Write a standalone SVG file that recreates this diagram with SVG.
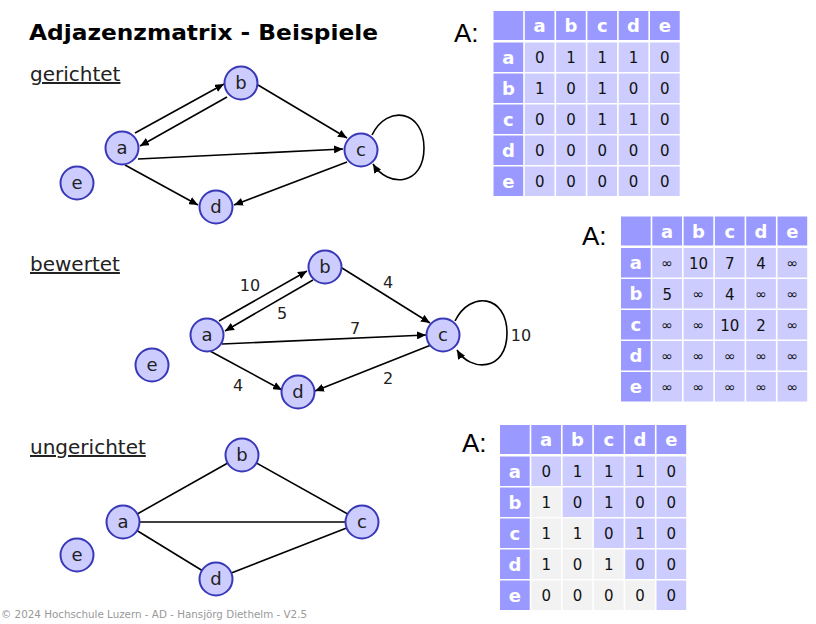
<svg xmlns="http://www.w3.org/2000/svg" width="816" height="624" viewBox="0 0 816 624">
<defs>
<marker id="arr" markerUnits="userSpaceOnUse" markerWidth="10" markerHeight="8" refX="9" refY="4" orient="auto"><path d="M0,0 L9,4 L0,8 z" fill="#000"/></marker>
<style>
.title{font-family:"DejaVu Sans",Verdana,sans-serif;font-weight:bold;font-size:22px;fill:#000}
.sec{font-family:"DejaVu Sans",Verdana,sans-serif;font-size:20px;fill:#222;text-decoration:underline}
.nd circle{fill:#CCCCFF;stroke:#3838B8;stroke-width:2}
.nd text{font-family:"DejaVu Sans",Verdana,sans-serif;font-size:18px;fill:#222;text-anchor:middle}
.e{stroke:#000;stroke-width:1.6;fill:none}
.ea{stroke:#000;stroke-width:1.6;fill:none;marker-end:url(#arr)}
.lbl{font-family:"DejaVu Sans",Verdana,sans-serif;font-size:16px;fill:#222;text-anchor:middle}
.A{font-family:"Liberation Sans",Arial,sans-serif;font-size:26px;fill:#000}
.h{fill:#9999FF}
.c{fill:#CCCCFF}
.g{fill:#F2F2F2}
.ht{font-family:"DejaVu Sans",Verdana,sans-serif;font-weight:bold;font-size:18px;fill:#fff;text-anchor:middle}
.dt{font-family:"DejaVu Sans",Verdana,sans-serif;font-size:15px;fill:#111;text-anchor:middle}
.it{font-family:"DejaVu Sans",Verdana,sans-serif;font-size:14px;fill:#111;text-anchor:middle}
.foot{font-family:"DejaVu Sans",Verdana,sans-serif;font-size:11px;fill:#999}
</style>
</defs>
<rect width="816" height="624" fill="#fff"/>
<text class="title" x="29" y="40" textLength="349" lengthAdjust="spacingAndGlyphs">Adjazenzmatrix - Beispiele</text>
<text class="sec" x="30" y="81">gerichtet</text>
<text class="sec" x="30" y="271">bewertet</text>
<text class="sec" x="30" y="454">ungerichtet</text>

<g id="connectors">
<!-- graph 1 -->
<path class="ea" d="M135,133 L224,84"/>
<path class="ea" d="M227,97 L140,146"/>
<path class="ea" d="M258,85 L347,138"/>
<path class="ea" d="M138,159 L343,149"/>
<path class="ea" d="M125,165 L198,205"/>
<path class="ea" d="M347,162 L234,205"/>
<path class="ea" d="M372,135 C387,104 424,110 424,148 C424,186 388,188 373,164"/>
<!-- graph 2 -->
<path class="ea" d="M219,321 L307,271"/>
<path class="ea" d="M313,280 L225,331"/>
<path class="ea" d="M342,268 L430,323"/>
<path class="ea" d="M222,344 L426,335"/>
<path class="ea" d="M210,351 L282,390"/>
<path class="ea" d="M431,345 L315,391"/>
<path class="ea" d="M455,321 C470,290 507,295 507,333 C507,372 470,372 457,350"/>
<!-- graph 3 -->
<path class="e" d="M123,522 L242,455"/>
<path class="e" d="M242,455 L362,522"/>
<path class="e" d="M123,522 L362,522"/>
<path class="e" d="M123,522 L216,579"/>
<path class="e" d="M362,522 L216,579"/>
</g>

<g id="edge-labels">
<text class="lbl" x="250" y="291">10</text>
<text class="lbl" x="388" y="288">4</text>
<text class="lbl" x="282" y="319">5</text>
<text class="lbl" x="355" y="334">7</text>
<text class="lbl" x="521" y="341">10</text>
<text class="lbl" x="238" y="391">4</text>
<text class="lbl" x="388" y="384">2</text>
</g>

<g id="g1-a" class="nd"><circle cx="122" cy="148" r="16.5"/><text x="122" y="154">a</text></g>
<g id="g1-b" class="nd"><circle cx="241" cy="83" r="16.5"/><text x="241" y="89">b</text></g>
<g id="g1-c" class="nd"><circle cx="361" cy="150" r="16.5"/><text x="361" y="156">c</text></g>
<g id="g1-d" class="nd"><circle cx="216" cy="207" r="16.5"/><text x="216" y="213">d</text></g>
<g id="g1-e" class="nd"><circle cx="77" cy="183" r="16.5"/><text x="77" y="189">e</text></g>

<g id="g2-a" class="nd"><circle cx="207" cy="335" r="16.5"/><text x="207" y="341">a</text></g>
<g id="g2-b" class="nd"><circle cx="325" cy="267" r="16.5"/><text x="325" y="273">b</text></g>
<g id="g2-c" class="nd"><circle cx="443" cy="335" r="16.5"/><text x="443" y="341">c</text></g>
<g id="g2-d" class="nd"><circle cx="298" cy="392" r="16.5"/><text x="298" y="398">d</text></g>
<g id="g2-e" class="nd"><circle cx="152" cy="365" r="16.5"/><text x="152" y="371">e</text></g>

<g id="g3-a" class="nd"><circle cx="123" cy="522" r="16.5"/><text x="123" y="528">a</text></g>
<g id="g3-b" class="nd"><circle cx="242" cy="455" r="16.5"/><text x="242" y="461">b</text></g>
<g id="g3-c" class="nd"><circle cx="362" cy="522" r="16.5"/><text x="362" y="528">c</text></g>
<g id="g3-d" class="nd"><circle cx="216" cy="579" r="16.5"/><text x="216" y="585">d</text></g>
<g id="g3-e" class="nd"><circle cx="77" cy="555" r="16.5"/><text x="77" y="561">e</text></g>

<!-- Matrix 1 -->
<text class="A" x="454" y="42">A:</text>
<g id="matrix1" transform="translate(493.5,11)">
<rect class="h" x="0" y="0" width="29.7" height="29"/><rect class="h" x="31.3" y="0" width="29.7" height="29"/><rect class="h" x="62.6" y="0" width="29.7" height="29"/><rect class="h" x="93.9" y="0" width="29.7" height="29"/><rect class="h" x="125.2" y="0" width="29.7" height="29"/><rect class="h" x="156.5" y="0" width="29.7" height="29"/>
<rect class="h" x="0" y="31.5" width="29.7" height="29.5"/><rect class="h" x="0" y="62.5" width="29.7" height="29.5"/><rect class="h" x="0" y="93.5" width="29.7" height="29.5"/><rect class="h" x="0" y="124.5" width="29.7" height="29.5"/><rect class="h" x="0" y="155.5" width="29.7" height="29.5"/>
<g class="c">
<rect x="31.3" y="31.5" width="29.7" height="29.5"/><rect x="62.6" y="31.5" width="29.7" height="29.5"/><rect x="93.9" y="31.5" width="29.7" height="29.5"/><rect x="125.2" y="31.5" width="29.7" height="29.5"/><rect x="156.5" y="31.5" width="29.7" height="29.5"/>
<rect x="31.3" y="62.5" width="29.7" height="29.5"/><rect x="62.6" y="62.5" width="29.7" height="29.5"/><rect x="93.9" y="62.5" width="29.7" height="29.5"/><rect x="125.2" y="62.5" width="29.7" height="29.5"/><rect x="156.5" y="62.5" width="29.7" height="29.5"/>
<rect x="31.3" y="93.5" width="29.7" height="29.5"/><rect x="62.6" y="93.5" width="29.7" height="29.5"/><rect x="93.9" y="93.5" width="29.7" height="29.5"/><rect x="125.2" y="93.5" width="29.7" height="29.5"/><rect x="156.5" y="93.5" width="29.7" height="29.5"/>
<rect x="31.3" y="124.5" width="29.7" height="29.5"/><rect x="62.6" y="124.5" width="29.7" height="29.5"/><rect x="93.9" y="124.5" width="29.7" height="29.5"/><rect x="125.2" y="124.5" width="29.7" height="29.5"/><rect x="156.5" y="124.5" width="29.7" height="29.5"/>
<rect x="31.3" y="155.5" width="29.7" height="29.5"/><rect x="62.6" y="155.5" width="29.7" height="29.5"/><rect x="93.9" y="155.5" width="29.7" height="29.5"/><rect x="125.2" y="155.5" width="29.7" height="29.5"/><rect x="156.5" y="155.5" width="29.7" height="29.5"/>
</g>
<text class="ht" x="46.15" y="21">a</text><text class="ht" x="77.45" y="21">b</text><text class="ht" x="108.75" y="21">c</text><text class="ht" x="140.05" y="21">d</text><text class="ht" x="171.35" y="21">e</text>
<text class="ht" x="14.85" y="52.5">a</text><text class="ht" x="14.85" y="83.5">b</text><text class="ht" x="14.85" y="114.5">c</text><text class="ht" x="14.85" y="145.5">d</text><text class="ht" x="14.85" y="176.5">e</text>
<text class="dt" x="46.15" y="51.75">0</text><text class="dt" x="77.45" y="51.75">1</text><text class="dt" x="108.75" y="51.75">1</text><text class="dt" x="140.05" y="51.75">1</text><text class="dt" x="171.35" y="51.75">0</text>
<text class="dt" x="46.15" y="82.75">1</text><text class="dt" x="77.45" y="82.75">0</text><text class="dt" x="108.75" y="82.75">1</text><text class="dt" x="140.05" y="82.75">0</text><text class="dt" x="171.35" y="82.75">0</text>
<text class="dt" x="46.15" y="113.75">0</text><text class="dt" x="77.45" y="113.75">0</text><text class="dt" x="108.75" y="113.75">1</text><text class="dt" x="140.05" y="113.75">1</text><text class="dt" x="171.35" y="113.75">0</text>
<text class="dt" x="46.15" y="144.75">0</text><text class="dt" x="77.45" y="144.75">0</text><text class="dt" x="108.75" y="144.75">0</text><text class="dt" x="140.05" y="144.75">0</text><text class="dt" x="171.35" y="144.75">0</text>
<text class="dt" x="46.15" y="175.75">0</text><text class="dt" x="77.45" y="175.75">0</text><text class="dt" x="108.75" y="175.75">0</text><text class="dt" x="140.05" y="175.75">0</text><text class="dt" x="171.35" y="175.75">0</text>
</g>

<!-- Matrix 2 -->
<text class="A" x="582" y="245">A:</text>
<g id="matrix2" transform="translate(621,216.5)">
<rect class="h" x="0" y="0" width="29.7" height="29"/><rect class="h" x="31.3" y="0" width="29.7" height="29"/><rect class="h" x="62.6" y="0" width="29.7" height="29"/><rect class="h" x="93.9" y="0" width="29.7" height="29"/><rect class="h" x="125.2" y="0" width="29.7" height="29"/><rect class="h" x="156.5" y="0" width="29.7" height="29"/>
<rect class="h" x="0" y="31.5" width="29.7" height="29.5"/><rect class="h" x="0" y="62.5" width="29.7" height="29.5"/><rect class="h" x="0" y="93.5" width="29.7" height="29.5"/><rect class="h" x="0" y="124.5" width="29.7" height="29.5"/><rect class="h" x="0" y="155.5" width="29.7" height="29.5"/>
<g class="c">
<rect x="31.3" y="31.5" width="29.7" height="29.5"/><rect x="62.6" y="31.5" width="29.7" height="29.5"/><rect x="93.9" y="31.5" width="29.7" height="29.5"/><rect x="125.2" y="31.5" width="29.7" height="29.5"/><rect x="156.5" y="31.5" width="29.7" height="29.5"/>
<rect x="31.3" y="62.5" width="29.7" height="29.5"/><rect x="62.6" y="62.5" width="29.7" height="29.5"/><rect x="93.9" y="62.5" width="29.7" height="29.5"/><rect x="125.2" y="62.5" width="29.7" height="29.5"/><rect x="156.5" y="62.5" width="29.7" height="29.5"/>
<rect x="31.3" y="93.5" width="29.7" height="29.5"/><rect x="62.6" y="93.5" width="29.7" height="29.5"/><rect x="93.9" y="93.5" width="29.7" height="29.5"/><rect x="125.2" y="93.5" width="29.7" height="29.5"/><rect x="156.5" y="93.5" width="29.7" height="29.5"/>
<rect x="31.3" y="124.5" width="29.7" height="29.5"/><rect x="62.6" y="124.5" width="29.7" height="29.5"/><rect x="93.9" y="124.5" width="29.7" height="29.5"/><rect x="125.2" y="124.5" width="29.7" height="29.5"/><rect x="156.5" y="124.5" width="29.7" height="29.5"/>
<rect x="31.3" y="155.5" width="29.7" height="29.5"/><rect x="62.6" y="155.5" width="29.7" height="29.5"/><rect x="93.9" y="155.5" width="29.7" height="29.5"/><rect x="125.2" y="155.5" width="29.7" height="29.5"/><rect x="156.5" y="155.5" width="29.7" height="29.5"/>
</g>
<text class="ht" x="46.15" y="21">a</text><text class="ht" x="77.45" y="21">b</text><text class="ht" x="108.75" y="21">c</text><text class="ht" x="140.05" y="21">d</text><text class="ht" x="171.35" y="21">e</text>
<text class="ht" x="14.85" y="52.5">a</text><text class="ht" x="14.85" y="83.5">b</text><text class="ht" x="14.85" y="114.5">c</text><text class="ht" x="14.85" y="145.5">d</text><text class="ht" x="14.85" y="176.5">e</text>
<text class="it" x="46.15" y="51">∞</text><text class="dt" x="77.45" y="52">10</text><text class="dt" x="108.75" y="52">7</text><text class="dt" x="140.05" y="52">4</text><text class="it" x="171.35" y="51">∞</text>
<text class="dt" x="46.15" y="83">5</text><text class="it" x="77.45" y="82">∞</text><text class="dt" x="108.75" y="83">4</text><text class="it" x="140.05" y="82">∞</text><text class="it" x="171.35" y="82">∞</text>
<text class="it" x="46.15" y="113">∞</text><text class="it" x="77.45" y="113">∞</text><text class="dt" x="108.75" y="114">10</text><text class="dt" x="140.05" y="114">2</text><text class="it" x="171.35" y="113">∞</text>
<text class="it" x="46.15" y="144">∞</text><text class="it" x="77.45" y="144">∞</text><text class="it" x="108.75" y="144">∞</text><text class="it" x="140.05" y="144">∞</text><text class="it" x="171.35" y="144">∞</text>
<text class="it" x="46.15" y="175">∞</text><text class="it" x="77.45" y="175">∞</text><text class="it" x="108.75" y="175">∞</text><text class="it" x="140.05" y="175">∞</text><text class="it" x="171.35" y="175">∞</text>
</g>

<!-- Matrix 3 -->
<text class="A" x="462" y="452">A:</text>
<g id="matrix3" transform="translate(500,425)">
<rect class="h" x="0" y="0" width="29.7" height="29"/><rect class="h" x="31.3" y="0" width="29.7" height="29"/><rect class="h" x="62.6" y="0" width="29.7" height="29"/><rect class="h" x="93.9" y="0" width="29.7" height="29"/><rect class="h" x="125.2" y="0" width="29.7" height="29"/><rect class="h" x="156.5" y="0" width="29.7" height="29"/>
<rect class="h" x="0" y="31.5" width="29.7" height="29.5"/><rect class="h" x="0" y="62.5" width="29.7" height="29.5"/><rect class="h" x="0" y="93.5" width="29.7" height="29.5"/><rect class="h" x="0" y="124.5" width="29.7" height="29.5"/><rect class="h" x="0" y="155.5" width="29.7" height="29.5"/>
<rect class="c" x="31.3" y="31.5" width="29.7" height="29.5"/><rect class="c" x="62.6" y="31.5" width="29.7" height="29.5"/><rect class="c" x="93.9" y="31.5" width="29.7" height="29.5"/><rect class="c" x="125.2" y="31.5" width="29.7" height="29.5"/><rect class="c" x="156.5" y="31.5" width="29.7" height="29.5"/>
<rect class="g" x="31.3" y="62.5" width="29.7" height="29.5"/><rect class="c" x="62.6" y="62.5" width="29.7" height="29.5"/><rect class="c" x="93.9" y="62.5" width="29.7" height="29.5"/><rect class="c" x="125.2" y="62.5" width="29.7" height="29.5"/><rect class="c" x="156.5" y="62.5" width="29.7" height="29.5"/>
<rect class="g" x="31.3" y="93.5" width="29.7" height="29.5"/><rect class="g" x="62.6" y="93.5" width="29.7" height="29.5"/><rect class="c" x="93.9" y="93.5" width="29.7" height="29.5"/><rect class="c" x="125.2" y="93.5" width="29.7" height="29.5"/><rect class="c" x="156.5" y="93.5" width="29.7" height="29.5"/>
<rect class="g" x="31.3" y="124.5" width="29.7" height="29.5"/><rect class="g" x="62.6" y="124.5" width="29.7" height="29.5"/><rect class="g" x="93.9" y="124.5" width="29.7" height="29.5"/><rect class="c" x="125.2" y="124.5" width="29.7" height="29.5"/><rect class="c" x="156.5" y="124.5" width="29.7" height="29.5"/>
<rect class="g" x="31.3" y="155.5" width="29.7" height="29.5"/><rect class="g" x="62.6" y="155.5" width="29.7" height="29.5"/><rect class="g" x="93.9" y="155.5" width="29.7" height="29.5"/><rect class="g" x="125.2" y="155.5" width="29.7" height="29.5"/><rect class="c" x="156.5" y="155.5" width="29.7" height="29.5"/>
<text class="ht" x="46.15" y="21">a</text><text class="ht" x="77.45" y="21">b</text><text class="ht" x="108.75" y="21">c</text><text class="ht" x="140.05" y="21">d</text><text class="ht" x="171.35" y="21">e</text>
<text class="ht" x="14.85" y="52.5">a</text><text class="ht" x="14.85" y="83.5">b</text><text class="ht" x="14.85" y="114.5">c</text><text class="ht" x="14.85" y="145.5">d</text><text class="ht" x="14.85" y="176.5">e</text>
<text class="dt" x="46.15" y="51.75">0</text><text class="dt" x="77.45" y="51.75">1</text><text class="dt" x="108.75" y="51.75">1</text><text class="dt" x="140.05" y="51.75">1</text><text class="dt" x="171.35" y="51.75">0</text>
<text class="dt" x="46.15" y="82.75">1</text><text class="dt" x="77.45" y="82.75">0</text><text class="dt" x="108.75" y="82.75">1</text><text class="dt" x="140.05" y="82.75">0</text><text class="dt" x="171.35" y="82.75">0</text>
<text class="dt" x="46.15" y="113.75">1</text><text class="dt" x="77.45" y="113.75">1</text><text class="dt" x="108.75" y="113.75">0</text><text class="dt" x="140.05" y="113.75">1</text><text class="dt" x="171.35" y="113.75">0</text>
<text class="dt" x="46.15" y="144.75">1</text><text class="dt" x="77.45" y="144.75">0</text><text class="dt" x="108.75" y="144.75">1</text><text class="dt" x="140.05" y="144.75">0</text><text class="dt" x="171.35" y="144.75">0</text>
<text class="dt" x="46.15" y="175.75">0</text><text class="dt" x="77.45" y="175.75">0</text><text class="dt" x="108.75" y="175.75">0</text><text class="dt" x="140.05" y="175.75">0</text><text class="dt" x="171.35" y="175.75">0</text>
</g>

<text class="foot" x="1" y="618" textLength="306" lengthAdjust="spacingAndGlyphs">© 2024 Hochschule Luzern - AD - Hansjörg Diethelm - V2.5</text>
</svg>
